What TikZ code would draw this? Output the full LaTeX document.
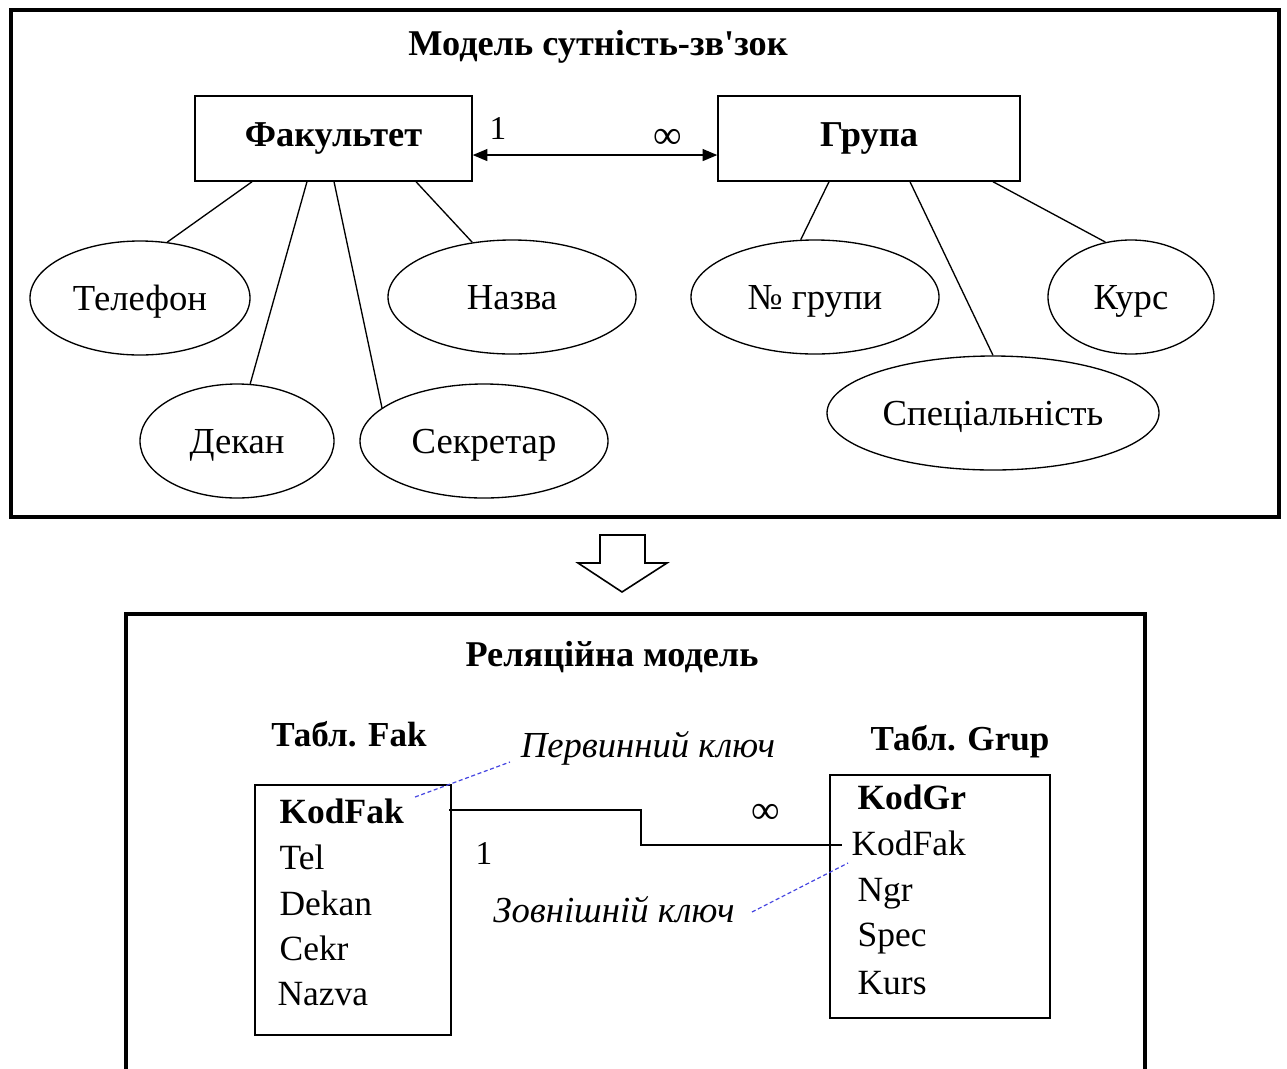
\documentclass[tikz,border=0pt]{standalone}
\usepackage{fontspec}
\setmainfont{Liberation Serif}
\newfontfamily\rawserif{Liberation Serif}
\usetikzlibrary{arrows.meta,shapes.geometric}
\begin{document}
\begin{tikzpicture}[x=0.75pt,y=-0.75pt,
  frame/.style={draw=black,line width=3pt},
  ent/.style={draw,line width=1.1pt,rectangle,inner sep=0pt,minimum height=63.75pt,font=\bfseries\fontsize{27.3}{31}\selectfont},
  attr/.style={draw,line width=1pt,ellipse,inner sep=0pt,minimum height=85.5pt,text height=20pt,text depth=2pt,font=\fontsize{27.5}{31}\selectfont},
  link/.style={line width=1pt},
  ttl/.style={font=\bfseries\fontsize{27.2}{31}\selectfont},
  sub/.style={font=\bfseries\fontsize{26.3}{30}\selectfont},
  tab/.style={draw,line width=1.1pt,rectangle,inner sep=0pt},
  row/.style={anchor=base west,inner sep=1pt,font=\fontsize{26.6}{30}\selectfont},
  keyrow/.style={row,font=\bfseries\fontsize{26.6}{30}\selectfont},
  note/.style={font=\itshape\fontsize{27.5}{31}\selectfont},
  mark1/.style={font=\fontsize{25}{29}\selectfont},
  infm/.style={font=\fontsize{30}{34}\selectfont},
  bluedash/.style={draw={rgb,255:red,70;green,70;blue,225},line width=0.9pt,dash pattern=on 3pt off 2pt}
]
\useasboundingbox (0,0) rectangle (1287,1068);
% frames
\draw[frame] (11,10) rectangle (1279,517);
\draw[frame] (126,1070) -- (126,614) -- (1145,614) -- (1145,1070);
% top title
\node[ttl] (t1) at (598,47) {Модель сутність-зв{\rawserif\bfseries '}зок};
% entities
\node[ent,minimum width=207.75pt] (fak) at (333.5,138.5) {Факультет};
\node[ent,minimum width=226.5pt] (gr) at (869,138.5) {Група};
\draw[link,{Triangle[length=11pt,width=9pt]}-{Triangle[length=11pt,width=9pt]}] ([yshift=-12.4pt]fak.east) -- ([yshift=-12.4pt]gr.west);
\node[mark1] (one1) at (498,128) {1};
\node[infm] (inf1) at (668,139) {∞};
% attributes
\node[attr,minimum width=165pt] (tel) at (140,298) {Телефон};
\node[attr,minimum width=186pt] (nazva) at (512,297) {Назва};
\node[attr,minimum width=145.5pt] (dekan) at (237,441) {Декан};
\node[attr,minimum width=186pt] (sekr) at (484,441) {Секретар};
\node[attr,minimum width=186pt] (ngr) at (815,297) {№ групи};
\node[attr,minimum width=124.5pt] (kurs) at (1131,297) {Курс};
\node[attr,minimum width=249pt] (spec) at (993,413) {Спеціальність};
\draw[link] ([xshift=-61.1pt]fak.south) -- (tel.64);
\draw[link] ([xshift=-19.9pt]fak.south) -- (dekan.77);
\draw[link] ([xshift=0.4pt]fak.south) -- (sekr.162);
\draw[link] ([xshift=61.9pt]fak.south) -- (nazva.126);
\draw[link] ([xshift=-30pt]gr.south) -- (ngr.104);
\draw[link] ([xshift=30.75pt]gr.south) -- (spec.90);
\draw[link] ([xshift=93pt]gr.south) -- (kurs.115);
% hollow arrow
\draw[line width=1.2pt,line join=miter] (600,535) -- (645,535) -- (645,563) -- (667,563) -- (622,592) -- (578,563) -- (600,563) -- cycle;
% bottom
\node[ttl] (t2) at (612,657) {Реляційна модель};
\node[sub] (tf) at (349,734) {Табл. Fak};
\node[sub] (tg) at (960,742) {Табл. Grup};
\node[tab,minimum width=147pt,minimum height=187.5pt] (ftab) at (353,910) {};
\node[tab,minimum width=165pt,minimum height=182.25pt] (gtab) at (940,896.5) {};
\node[keyrow] (kf1) at (278,823) {KodFak};
\node[row] (tel2) at (278,869) {Tel};
\node[row] (dek2) at (278,915) {Dekan};
\node[row] (cek2) at (278,960) {Cekr};
\node[row] (naz2) at (276,1005) {Nazva};
\node[keyrow] (kg) at (856,809) {KodGr};
\node[row] (kf2) at (850,855) {KodFak};
\node[row] (ngr2) at (856,901) {Ngr};
\node[row] (spec2) at (856,946) {Spec};
\node[row] (kurs2) at (856,994) {Kurs};
\draw[link] ([xshift=-2pt,yshift=9.75pt]ftab.east |- kf1.base) -- ++(192,0) |- ([xshift=-6pt,yshift=7.5pt]kf2.base west);
\node[mark1] (one2) at (484,853) {1};
\node[infm] (inf2) at (766,814) {∞};
\node[note] (pk) at (648,748) {Первинний ключ};
\node[note] (fk) at (614,910) {Зовнішній ключ};
\coordinate (pkA) at (415,797);
\coordinate (fkA) at (848,863);
\draw[bluedash] (pkA) -- (510,762) coordinate (pkB);
\draw[bluedash] (752,912) coordinate (fkB) -- (fkA);
\end{tikzpicture}
\end{document}
